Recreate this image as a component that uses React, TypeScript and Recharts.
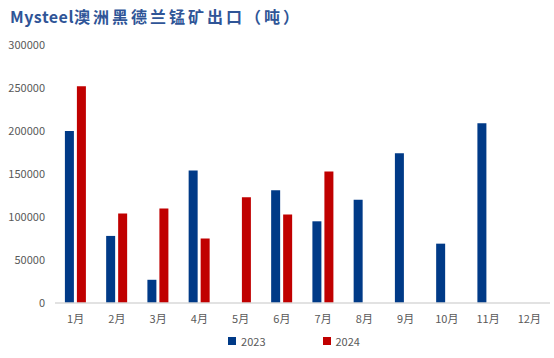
import { BarChart, Bar, XAxis, YAxis, Legend } from "recharts";

const months = ["1月", "2月", "3月", "4月", "5月", "6月", "7月", "8月", "9月", "10月", "11月", "12月"];
const exports2023 = [200000, 78000, 27000, 154000, null, 131000, 95000, 120000, 174000, 69000, 209000, null];
const exports2024 = [252000, 104000, 110000, 75000, 123000, 103000, 153000, null, null, null, null, null];
const yTicks = [0, 50000, 100000, 150000, 200000, 250000, 300000];

const BLUE = "#003A87";
const RED = "#C00000";
const FONT = "'Noto Sans CJK SC', 'Noto Sans', sans-serif";

const data = months.map((m, i) => ({ month: m, y2023: exports2023[i], y2024: exports2024[i] }));

function LegendBox() {
  const items = [
    { label: "2023", color: BLUE },
    { label: "2024", color: RED },
  ];
  return (
    <div
      style={{
        display: "flex",
        justifyContent: "center",
        gap: 57,
        paddingLeft: 38,
        fontFamily: FONT,
        fontSize: 11,
        color: "#595959",
      }}
    >
      {items.map((it) => (
        <div key={it.label} style={{ display: "flex", alignItems: "center" }}>
          <span style={{ width: 8, height: 8, background: it.color, display: "inline-block", marginRight: 5 }} />
          <span>{it.label}</span>
        </div>
      ))}
    </div>
  );
}

export default function App() {
  return (
    <div style={{ position: "absolute", left: 0, top: 0, width: 554, height: 358, background: "#fff" }}>
      <div
        style={{
          position: "absolute",
          left: 10,
          top: 4,
          fontFamily: FONT,
          fontWeight: 700,
          fontSize: 16,
          color: "#2F5597",
          whiteSpace: "nowrap",
        }}
      >
        <span style={{ letterSpacing: 0.5 }}>Mysteel</span>
        <span style={{ letterSpacing: 3 }}>澳洲黑德兰锰矿出口（吨）</span>
      </div>
      <BarChart
        width={554}
        height={358}
        data={data}
        margin={{ top: 45, right: 4, bottom: 5, left: 0 }}
        barGap={3}
        barCategoryGap="24%"
      >
        <XAxis
          dataKey="month"
          axisLine={{ stroke: "#D9D9D9", strokeWidth: 1.5 }}
          tickLine={false}
          tickMargin={6}
          tick={{ fill: "#595959", fontSize: 11, fontFamily: FONT }}
          interval={0}
        />
        <YAxis
          width={55}
          domain={[0, 300000]}
          ticks={yTicks}
          axisLine={false}
          tickLine={false}
          tickMargin={4}
          tick={{ fill: "#595959", fontSize: 11, fontFamily: FONT }}
        />
        <Legend verticalAlign="bottom" height={20} content={() => <LegendBox />} />
        <Bar dataKey="y2023" name="2023" fill={BLUE} isAnimationActive={false} />
        <Bar dataKey="y2024" name="2024" fill={RED} isAnimationActive={false} />
      </BarChart>
    </div>
  );
}
